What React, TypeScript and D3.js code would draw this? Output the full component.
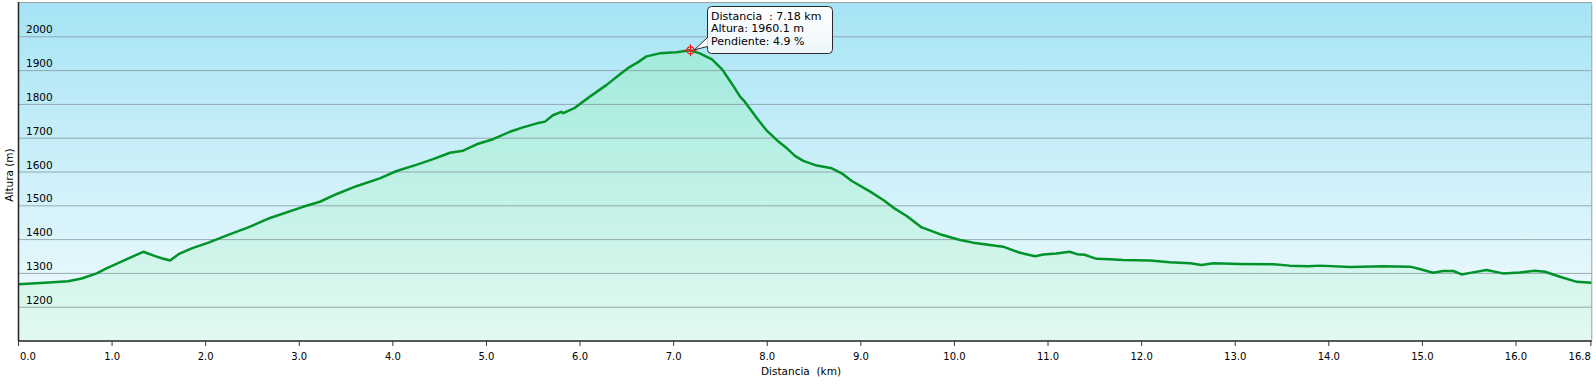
import * as d3 from "d3";
import { useEffect } from "react";

// distance along the track (km) and altitude (m)
const distKm = [
  0, 0.28, 0.53, 0.675, 0.835, 0.94, 1.14, 1.333, 1.46, 1.53, 1.62, 1.71, 1.85,
  2.03, 2.24, 2.455, 2.687, 3.04, 3.22, 3.4, 3.61, 3.86, 4.04, 4.25, 4.43, 4.61,
  4.75, 4.895, 5.07, 5.25, 5.39, 5.54, 5.625, 5.71, 5.8, 5.82, 5.945, 6.105,
  6.28, 6.43, 6.515, 6.62, 6.71, 6.85, 7.03, 7.18, 7.28, 7.41, 7.52, 7.62, 7.71,
  7.76, 7.89, 7.99, 8.12, 8.21, 8.3, 8.385, 8.53, 8.69, 8.795, 8.9, 9.1, 9.24,
  9.35, 9.49, 9.65, 9.845, 10.06, 10.2, 10.38, 10.52, 10.7, 10.86, 10.95, 11.09,
  11.23, 11.31, 11.39, 11.52, 11.66, 11.8, 12.09, 12.3, 12.52, 12.64, 12.765,
  13.05, 13.41, 13.58, 13.78, 13.9, 14.23, 14.58, 14.87, 14.97, 15.115, 15.22,
  15.33, 15.42, 15.54, 15.685, 15.86, 16.04, 16.2, 16.31, 16.47, 16.65, 16.81,
];
const altM = [
  1268, 1272, 1277, 1285, 1300, 1315, 1340, 1364, 1351, 1345, 1338, 1357, 1374,
  1391, 1414, 1436, 1464, 1497, 1512, 1535, 1558, 1581, 1603, 1621, 1638, 1657,
  1663, 1682, 1697, 1719, 1732, 1744, 1749, 1768, 1778, 1774, 1790, 1823, 1857,
  1890, 1908, 1925, 1942, 1951, 1954, 1960, 1951, 1933, 1903, 1862, 1823, 1808,
  1759, 1724, 1690, 1670, 1647, 1633, 1619, 1611, 1596, 1574, 1542, 1517, 1494,
  1470, 1436, 1416, 1399, 1391, 1384, 1379, 1361, 1351, 1356, 1359, 1364, 1357,
  1355, 1343, 1342, 1340, 1338, 1333, 1330, 1325, 1330, 1328, 1327, 1323, 1321,
  1323, 1319, 1321, 1320, 1313, 1302, 1307, 1307, 1297, 1303, 1310, 1300, 1303,
  1308, 1305, 1290, 1275, 1272,
];

const yTicks = [1200, 1300, 1400, 1500, 1600, 1700, 1800, 1900, 2000];
const xTicks = [0, 1, 2, 3, 4, 5, 6, 7, 8, 9, 10, 11, 12, 13, 14, 15, 16, 16.8];

const tipLines = ["Distancia  : 7.18 km", "Altura: 1960.1 m", "Pendiente: 4.9 %"];
const tipKm = 7.18;
const tipAlt = 1960.1;

const W = 1596;
const H = 386;
const FONT = "'DejaVu Sans', Verdana, sans-serif";

export default function App() {
  useEffect(() => {
    document.body.style.margin = "0";
  }, []);

  const x = d3.scaleLinear().domain([0, 16.81]).range([18.5, 1591.8]);
  const y = d3.scaleLinear().domain([1100, 2100]).range([341, 3]);
  const pts = distKm.map((d, i) => [d, altM[i]] as [number, number]);

  const area = d3
    .area<[number, number]>()
    .x((d) => x(d[0]))
    .y0(y(1100))
    .y1((d) => y(d[1]));
  const line = d3
    .line<[number, number]>()
    .x((d) => x(d[0]))
    .y((d) => y(d[1]));

  const [x0, x1] = x.range();
  const [yb, yt] = y.range();
  const mx = x(tipKm);
  const my = y(tipAlt);
  const box = { x: 707.5, y: 6.5, w: 125, h: 47 };

  return (
    <svg width={W} height={H} style={{ display: "block", background: "#fff" }}>
      <defs>
        <linearGradient id="sky" x1="0" y1="0" x2="0" y2="1">
          <stop offset="0" stopColor="#a6e4f5" />
          <stop offset="1" stopColor="#f4fcfe" />
        </linearGradient>
        <linearGradient id="fill" gradientUnits="userSpaceOnUse" x1="0" y1={y(1960)} x2="0" y2={yb}>
          <stop offset="0" stopColor="#a2eadd" />
          <stop offset="1" stopColor="#e3f9f0" />
        </linearGradient>
        <linearGradient id="tip" x1="0" y1="0" x2="0" y2="1">
          <stop offset="0" stopColor="#ffffff" />
          <stop offset="1" stopColor="#eef6fa" />
        </linearGradient>
      </defs>

      <rect x={x0} y={yt} width={x1 - x0} height={yb - yt} fill="url(#sky)" />
      <path d={area(pts) ?? ""} fill="url(#fill)" />

      {yTicks.map((t) => (
        <g key={t}>
          <line x1={x0} x2={x1} y1={y(t)} y2={y(t)} stroke="#8c9ea4" strokeOpacity={0.85} />
          <text x={26} y={y(t) - 3.5} fontFamily={FONT} fontSize={10.5} fill="#000">
            {t}
          </text>
        </g>
      ))}

      <path d={line(pts) ?? ""} fill="none" stroke="#00932a" strokeWidth={2.5} strokeLinejoin="round" />

      {/* frame */}
      <line x1={x0} x2={x1} y1={yt - 0.5} y2={yt - 0.5} stroke="#a0a0a0" />
      <line x1={x1} x2={x1} y1={yt} y2={yb} stroke="#a0a0a0" />
      <line x1={x0} x2={x0} y1={yt - 1} y2={yb} stroke="#222" strokeWidth={1.5} />
      <line x1={x0} x2={x1} y1={yb} y2={yb} stroke="#222" strokeWidth={1.5} />

      {xTicks.map((t, i) => {
        const anchor = i === 0 ? "start" : i === xTicks.length - 1 ? "end" : "middle";
        const tx = i === 0 ? x(t) + 1.5 : i === xTicks.length - 1 ? x1 - 1 : x(t);
        return (
          <g key={t}>
            <line x1={x(t)} x2={x(t)} y1={yb} y2={yb + 5} stroke="#333" />
            <text x={tx} y={360} textAnchor={anchor} fontFamily={FONT} fontSize={10} fill="#000">
              {t.toFixed(1)}
            </text>
          </g>
        );
      })}

      <text x={801} y={375} textAnchor="middle" fontFamily={FONT} fontSize={10.5} fill="#000" style={{ whiteSpace: "pre" }}>
        {"Distancia  (km)"}
      </text>
      <text
        transform={`translate(12.5,175) rotate(-90)`}
        textAnchor="middle"
        fontFamily={FONT}
        fontSize={10.5}
        fill="#000"
      >
        Altura (m)
      </text>

      {/* hover marker */}
      <g stroke="#ff1a1a" strokeWidth={1.2} fill="none">
        <circle cx={mx} cy={my} r={3.5} />
        <line x1={mx - 6} x2={mx + 6} y1={my} y2={my} />
        <line x1={mx} x2={mx} y1={my - 6} y2={my + 6} />
      </g>

      {/* tooltip */}
      <rect x={box.x} y={box.y} width={box.w} height={box.h} rx={4} fill="url(#tip)" stroke="#2a2a2a" />
      <path
        d={`M${box.x},${box.y + 31} L${mx + 4},${my - 0.5} L${box.x},${box.y + 40}`}
        fill="#fafdff"
        stroke="#2a2a2a"
        strokeLinejoin="round"
      />
      <line x1={box.x + 0.5} x2={box.x + 0.5} y1={box.y + 31.5} y2={box.y + 39.5} stroke="#fafdff" strokeWidth={1.2} />
      {tipLines.map((s, i) => (
        <text
          key={s}
          x={box.x + 3.5}
          y={box.y + 13 + i * 12.8}
          fontFamily={FONT}
          fontSize={11}
          fill="#000"
          style={{ whiteSpace: "pre" }}
        >
          {s}
        </text>
      ))}
    </svg>
  );
}
